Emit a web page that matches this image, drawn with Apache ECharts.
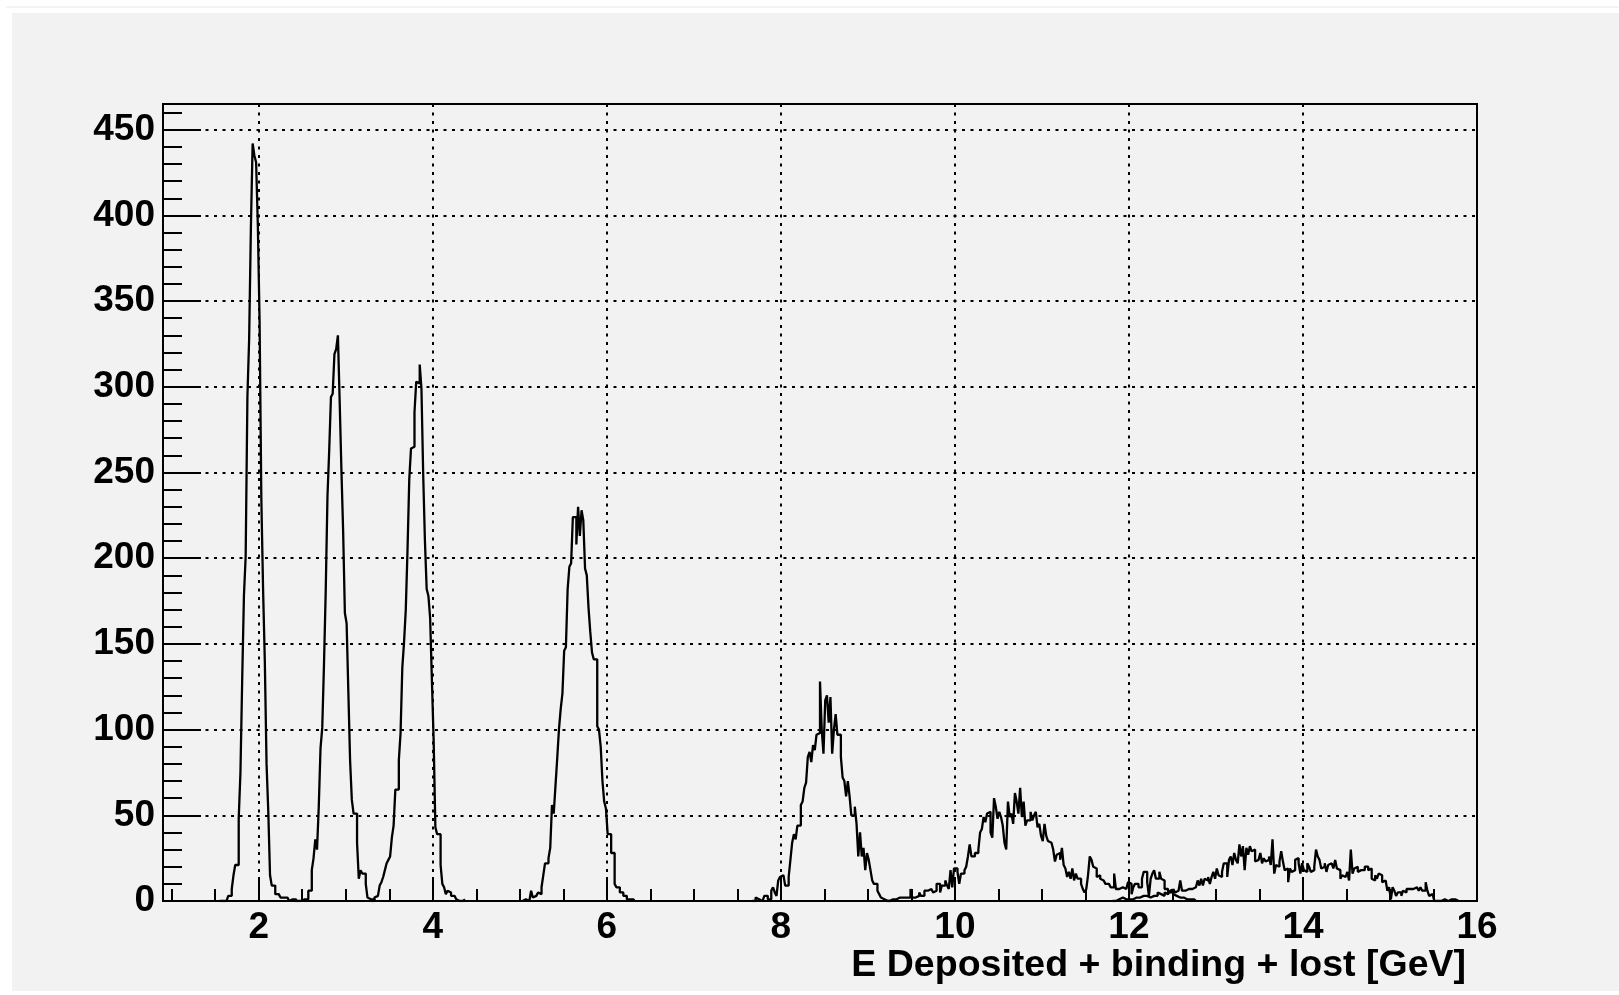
<!DOCTYPE html>
<html>
<head>
<meta charset="utf-8">
<script src="https://cdn.jsdelivr.net/npm/echarts@6/dist/echarts.min.js"></script>
<style>
  html, body { margin: 0; padding: 0; background: #ffffff; }
  #chart { width: 1619px; height: 995px; }
</style>
</head>
<body>
<div id="chart"></div>
<script>
// Bin width of every histogram, in GeV
const BIN_WIDTH = 0.02;

// Lower edge of the first listed bin of each histogram (GeV)
const peakStarts = [1.55, 2.41, 3.29, 5.03, 7.67, 9.21, 11.81];

// Entries per bin, one histogram per beam energy
const counts2GeV = [1, 0, 1, 0, 1, 3, 3, 7, 15, 21, 21, 48, 75, 129, 178, 201, 294, 328, 393, 442,
  435, 431, 394, 338, 235, 182, 140, 80, 52, 15, 9, 9, 4, 4, 3, 2, 2, 1, 2, 1, 0, 1, 0, 1];

const counts3GeV = [1, 0, 1, 0, 1, 1, 0, 1, 6, 6, 18, 25, 36, 30, 55, 89, 101, 138, 181, 236,
  263, 294, 296, 319, 322, 330, 292, 252, 216, 168, 162, 122, 82, 59, 51, 51, 34, 13, 18, 16,
  16, 10, 2, 1, 0, 1];

const counts4GeV = [1, 0, 2, 3, 2, 9, 11, 14, 18, 22, 24, 26, 37, 44, 65, 65, 82, 98, 136, 151,
  170, 205, 246, 264, 265, 285, 303, 302, 313, 299, 249, 210, 182, 178, 165, 129, 94, 43, 39, 39,
  21, 10, 8, 4, 6, 5, 3, 3, 2, 1, 0, 1, 0, 1];

const counts6GeV = [0, 1, 0, 0, 1, 6, 2, 3, 2, 5, 4, 8, 15, 22, 22, 25, 31, 56, 51, 67,
  83, 100, 112, 121, 146, 148, 182, 195, 197, 224, 224, 208, 230, 213, 228, 222, 194, 190, 171, 157,
  145, 141, 141, 102, 100, 90, 70, 58, 54, 39, 39, 28, 28, 10, 8, 8, 5, 5, 3, 3,
  1, 1, 0, 1];

const counts9GeV = [1, 0, 2, 1, 1, 0, 1, 3, 3, 1, 1, 6, 8, 5, 3, 12, 14, 15, 15, 9,
  9, 14, 24, 34, 39, 36, 44, 44, 56, 58, 66, 69, 84, 87, 81, 91, 88, 97, 98, 128,
  100, 86, 117, 120, 104, 119, 86, 100, 109, 97, 97, 84, 72, 70, 61, 70, 61, 50, 50, 55,
  45, 26, 40, 26, 31, 18, 28, 24, 18, 12, 10, 10, 6, 4, 2, 1, 1, 0, 1, 0];

const counts11GeV = [1, 0, 1, 1, 0, 1, 1, 2,
  1, 2, 1, 2, 1, 2, 7, 2, 2, 1, 3, 5, 3, 3, 6, 6, 7, 7, 7, 5,
  6, 10, 10, 5, 9, 9, 12, 9, 7, 18, 8, 19, 19, 17, 10, 16, 16, 18, 20, 26,
  33, 26, 26, 28, 28, 30, 40, 42, 49, 46, 51, 52, 40, 37, 60, 55, 48, 52, 49, 44,
  34, 30, 58, 49, 51, 45, 63, 58, 51, 66, 49, 58, 44, 47, 47, 52, 47, 50, 52, 43,
  45, 38, 35, 45, 38, 35, 34, 34, 30, 23, 27, 28, 24, 31, 21, 19, 14, 17, 13, 19,
  12, 16, 13, 13, 10, 7, 5, 7, 15, 26, 24, 20, 19, 14, 15, 13, 12, 12, 10, 10,
  10, 8, 8, 16, 7, 7, 8, 8, 7, 7, 7, 11, 10, 4, 8, 10, 10, 8, 8, 13,
  17, 17, 11, 3, 13, 16, 18, 13, 13, 17, 13, 12, 7, 7, 5, 5, 7, 4, 3, 3,
  2, 1, 2, 1, 1, 0, 1, 0, 1, 0];

const counts14GeV = [1, 0, 1, 1, 0, 2, 1, 1, 2, 1, 2, 1, 2, 2, 3, 2, 1, 3, 2, 3,
  4, 2, 3, 3, 4, 3, 5, 4, 4, 3, 5, 4, 3, 6, 5, 7, 5, 6,
  6, 12, 6, 6, 7, 7, 7, 7, 6, 8, 8, 12, 9, 13, 9, 13, 12, 14, 10, 14,
  17, 13, 19, 15, 14, 17, 22, 22, 14, 24, 26, 21, 28, 24, 22, 33, 26, 32, 18, 31,
  27, 32, 29, 30, 23, 24, 24, 28, 22, 25, 23, 24, 26, 21, 36, 16, 21, 20, 23, 29,
  23, 18, 19, 11, 19, 17, 18, 24, 25, 22, 16, 22, 18, 17, 22, 20, 17, 18, 20, 30,
  26, 24, 19, 20, 22, 17, 21, 22, 23, 19, 24, 19, 18, 13, 15, 14, 13, 17, 12, 30,
  16, 19, 20, 17, 18, 17, 18, 20, 20, 18, 19, 13, 12, 15, 13, 16, 15, 11, 12, 13,
  6, 8, 1, 8, 6, 3, 5, 5, 3, 6, 5, 7, 7, 8, 7, 7, 8, 7, 6, 8,
  6, 6, 11, 6, 3, 4, 4, 0, 0, 0, 0, 0, 1, 1, 0, 0, 1, 0, 1, 1, 0];

const peakCounts = [counts2GeV, counts3GeV, counts4GeV, counts6GeV, counts9GeV, counts11GeV, counts14GeV];

// Axis ticks
const xMajorTicks = [2, 4, 6, 8, 10, 12, 14, 16];
const xMinorTicks = [1, 1.5, 2.5, 3, 3.5, 4.5, 5, 5.5, 6.5, 7, 7.5, 8.5, 9, 9.5,
  10.5, 11, 11.5, 12.5, 13, 13.5, 14.5, 15, 15.5];
const yMajorTicks = [0, 50, 100, 150, 200, 250, 300, 350, 400, 450];
const yMinorTicks = [10, 20, 30, 40, 60, 70, 80, 90, 110, 120, 130, 140, 160, 170, 180, 190,
  210, 220, 230, 240, 260, 270, 280, 290, 310, 320, 330, 340, 360, 370, 380, 390,
  410, 420, 430, 440, 460];

const X_MIN = 0.9, X_MAX = 16;
const Y_MIN = 0, Y_MAX = 465;
const AXIS_TITLE = 'E Deposited + binding + lost [GeV]';

// Turn a list of bin contents into step-line points at the bin edges
function histogramPoints(start, counts) {
  const pts = [[start, 0]];
  counts.forEach(function (c, i) {
    pts.push([+(start + i * BIN_WIDTH).toFixed(4), c]);
  });
  pts.push([+(start + counts.length * BIN_WIDTH).toFixed(4), 0]);
  return pts;
}

const FONT = 'Liberation Sans, Arial, Helvetica, sans-serif';
const labelStyle = { color: '#000', fontFamily: FONT, fontWeight: 'bold', fontSize: 37 };
const tickLine = { color: '#000', width: 2 };
const gridLine = { color: '#000', width: 2, type: [3, 5.5] };

const series = peakCounts.map(function (counts, i) {
  return {
    type: 'line',
    step: 'end',
    xAxisIndex: 0,
    yAxisIndex: 0,
    showSymbol: false,
    symbol: 'none',
    silent: true,
    animation: false,
    lineStyle: { color: '#000', width: 2.3 },
    data: histogramPoints(peakStarts[i], counts),
    z: 5
  };
});

const chart = echarts.init(document.getElementById('chart'), null, { renderer: 'canvas' });
chart.setOption({
  animation: false,
  backgroundColor: '#f2f2f2',
  grid: {
    left: 163, top: 104, width: 1314, height: 797,
    show: true, borderColor: '#000', borderWidth: 2, backgroundColor: 'transparent',
    containLabel: false
  },
  xAxis: [{
    type: 'value', position: 'bottom', min: X_MIN, max: X_MAX,
    axisLine: { show: true, onZero: false, lineStyle: tickLine },
    axisTick: { show: true, inside: true, length: 24, customValues: xMajorTicks, lineStyle: tickLine },
    axisLabel: Object.assign({ customValues: xMajorTicks, margin: 8 }, labelStyle),
    splitLine: { show: true, lineStyle: gridLine }
  }, {
    type: 'value', position: 'bottom', min: X_MIN, max: X_MAX,
    axisLine: { show: false, onZero: false },
    axisTick: { show: true, inside: true, length: 12, customValues: xMinorTicks, lineStyle: tickLine },
    axisLabel: { show: false },
    splitLine: { show: false }
  }],
  yAxis: [{
    type: 'value', position: 'left', min: Y_MIN, max: Y_MAX,
    axisLine: { show: true, onZero: false, lineStyle: tickLine },
    axisTick: { show: true, inside: true, length: 38, customValues: yMajorTicks, lineStyle: tickLine },
    axisLabel: Object.assign({ customValues: yMajorTicks, margin: 8 }, labelStyle),
    splitLine: { show: true, lineStyle: gridLine }
  }, {
    type: 'value', position: 'left', min: Y_MIN, max: Y_MAX,
    axisLine: { show: false, onZero: false },
    axisTick: { show: true, inside: true, length: 19, customValues: yMinorTicks, lineStyle: tickLine },
    axisLabel: { show: false },
    splitLine: { show: false }
  }],
  graphic: [
    { type: 'rect', left: 0, top: 0, shape: { width: 1619, height: 13 }, style: { fill: '#ffffff' }, silent: true },
    { type: 'rect', left: 0, top: 0, shape: { width: 12, height: 995 }, style: { fill: '#ffffff' }, silent: true },
    { type: 'rect', left: 0, top: 991, shape: { width: 1619, height: 4 }, style: { fill: '#ffffff' }, silent: true },
    { type: 'line', shape: { x1: 6, y1: 7, x2: 1619, y2: 7 }, style: { stroke: '#e8e8e8', lineWidth: 1 }, silent: true },
    {
      type: 'text', right: 153, top: 947, silent: true,
      style: { text: AXIS_TITLE, fill: '#000', font: 'bold 37.5px ' + FONT }
    }
  ],
  series: series
});
</script>
</body>
</html>
